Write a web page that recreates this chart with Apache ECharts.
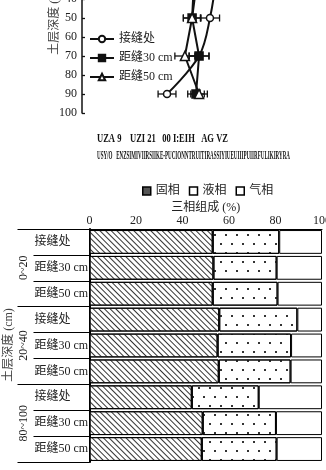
<!DOCTYPE html>
<html><head><meta charset="utf-8">
<script src="https://cdn.jsdelivr.net/npm/echarts@6/dist/echarts.min.js"></script>
<style>html,body{margin:0;padding:0;background:#fff}#c{width:326px;height:470px}</style>
</head><body><div id="c"></div><script>
// ---- top chart (depth profile) ----
const depths = [10, 30, 50, 70, 90];
const lineNames = ['接缝处', '距缝30 cm', '距缝50 cm'];
const seamVals = [60.0, 61.0, 58.7, 53.7, 39.0];
const seamErr  = [4.0, 4.0, 4.4, 4.5, 4.1];
const d30Vals  = [52.0, 51.4, 50.5, 53.7, 52.3];
const d30Err   = [3.5, 3.5, 4.0, 4.6, 3.8];
const d50Vals  = [53.0, 52.8, 50.5, 47.2, 53.7];
const d50Err   = [3.5, 3.5, 4.0, 4.6, 3.8];
// ---- bottom chart (three-phase composition) ----
const groups = ['0~20', '20~40', '80~100'];
const positions = ['接缝处', '距缝30 cm', '距缝50 cm'];
const phaseNames = ['固相', '液相', '气相'];
const solidVals  = [53.0, 53.3, 53.0, 55.8, 55.1, 55.6, 44.0, 48.7, 48.3];
const liquidVals = [28.6, 27.2, 27.9, 33.6, 31.6, 30.9, 28.8, 31.5, 32.2];
const gasVals    = [18.4, 19.5, 19.1, 10.6, 13.3, 13.5, 27.2, 19.8, 19.5];
const captionLines = ['UZA 9    UZI 21   00 I:EIH   AG VZ', 'USY/O   ENZSIMIVIIRSIIKE-PUCIONNTRUITIRASSIYIUEUIIIPUIIRFULIKIRYRA'];
const depthTitle = '土层深度 (cm)';

const FF = "'Liberation Serif', 'Noto Sans CJK SC', serif";
const TXT = '#222';
const rowCats = [];
groups.forEach(g => positions.forEach(p => rowCats.push(g + '|' + p)));

function errSeries(vals, errs) {
  return {
    type: 'custom', xAxisIndex: 0, yAxisIndex: 0, silent: true, z: 1,
    data: depths.map((d, i) => [vals[i] - errs[i], vals[i] + errs[i], d]),
    encode: { x: [0, 1], y: 2 },
    renderItem(params, api) {
      const y = api.value(2);
      const a = api.coord([api.value(0), y]);
      const b = api.coord([api.value(1), y]);
      const h = 3.5, st = { stroke: '#111', lineWidth: 1.3 };
      return { type: 'group', children: [
        { type: 'line', shape: { x1: a[0], y1: a[1], x2: b[0], y2: b[1] }, style: st },
        { type: 'line', shape: { x1: a[0], y1: a[1] - h, x2: a[0], y2: a[1] + h }, style: st },
        { type: 'line', shape: { x1: b[0], y1: b[1] - h, x2: b[0], y2: b[1] + h }, style: st }
      ]};
    }
  };
}
function lineSeries(name, vals, symbol, fill, size, smooth) {
  return {
    type: 'line', name, xAxisIndex: 0, yAxisIndex: 0, z: 3, smooth,
    data: depths.map((d, i) => [vals[i], d]),
    symbol, symbolSize: size, showSymbol: true,
    lineStyle: { color: '#111', width: 2 },
    itemStyle: { color: fill, borderColor: '#111', borderWidth: 1.5 }
  };
}

// caption texts, condensed to fit
const ctx = document.createElement('canvas').getContext('2d');
const capFont = "bold 12px 'Liberation Serif', serif";
ctx.font = capFont;
const capTargets = [[97, 133, 131], [97, 150, 193]];
const graphics = captionLines.map((t, i) => {
  const w = ctx.measureText(t).width;
  return { type: 'text', x: capTargets[i][0], y: capTargets[i][1], scaleX: capTargets[i][2] / w,
    style: { text: t, font: capFont, fill: '#111' } };
});
// rotated depth titles for both panels
[[55, 18], [9, 345]].forEach(p => graphics.push({
  type: 'text', x: p[0], y: p[1], rotation: Math.PI / 2,
  style: { text: depthTitle, fontSize: 12, fontFamily: FF, fill: '#444', align: 'center', verticalAlign: 'middle' }
}));

const chart = echarts.init(document.getElementById('c'), null, { renderer: 'canvas' });
chart.setOption({
  animation: false,
  backgroundColor: '#fff',
  graphic: graphics,
  grid: [
    { left: 82, top: -77, width: 218, height: 190, outerBoundsMode: 'none', containLabel: false },
    { left: 89.5, top: 229, width: 232.5, height: 233, outerBoundsMode: 'none', containLabel: false },
    { left: 89.5, top: 229, width: 232.5, height: 233, outerBoundsMode: 'none', containLabel: false }
  ],
  legend: [
    { data: lineNames, orient: 'vertical', left: 84, top: 28, itemGap: 7, itemWidth: 24, itemHeight: 8,
      textStyle: { fontSize: 12, fontFamily: FF, color: TXT }, selectedMode: false },
    { data: [
        { name: '固相', icon: 'rect', itemStyle: { color: '#555', borderColor: '#000', borderWidth: 1.5, decal: 'none' } },
        { name: '液相', icon: 'rect', itemStyle: { color: '#fff', borderColor: '#000', borderWidth: 1.5, decal: 'none' } },
        { name: '气相', icon: 'rect', itemStyle: { color: '#fff', borderColor: '#000', borderWidth: 1.5 } }
      ], left: 137, top: 180, itemGap: 9, itemWidth: 8, itemHeight: 8,
      textStyle: { fontSize: 12, fontFamily: FF, color: TXT }, selectedMode: false }
  ],
  xAxis: [
    { gridIndex: 0, type: 'value', min: 0, max: 100, show: false },
    { gridIndex: 1, type: 'value', position: 'top', min: 0, max: 100, interval: 20,
      axisLine: { show: true, lineStyle: { color: '#000', width: 1.2 } },
      axisTick: { show: false }, splitLine: { show: false },
      axisLabel: { margin: 2, fontSize: 12, fontFamily: FF, color: TXT },
      name: '三相组成 (%)', nameLocation: 'middle', nameGap: 15,
      nameTextStyle: { fontSize: 12, fontFamily: FF, color: TXT } },
    { gridIndex: 2, type: 'value', min: 0, max: 100, show: false }
  ],
  yAxis: [
    { gridIndex: 0, type: 'value', inverse: true, min: 0, max: 100, interval: 10,
      axisLine: { show: true, lineStyle: { color: '#111', width: 1.5 } },
      axisTick: { show: true, inside: true, length: 3, lineStyle: { color: '#111', width: 1.3 } },
      splitLine: { show: false },
      axisLabel: { margin: 5, fontSize: 12, fontFamily: FF, color: TXT } },
    { gridIndex: 1, type: 'category', inverse: true, data: rowCats,
      axisLine: { show: true, lineStyle: { color: '#000', width: 2 } },
      axisTick: { show: true, length: 56, interval: 0, lineStyle: { color: '#000', width: 1.2 } },
      axisLabel: { align: 'left', margin: 55, fontSize: 12, fontFamily: FF, color: TXT, interval: 0,
        formatter: v => v.split('|')[1] } },
    { gridIndex: 2, type: 'category', inverse: true, data: groups,
      axisLine: { show: false },
      axisTick: { show: true, length: 72, interval: 0, lineStyle: { color: '#000', width: 1.2 } },
      axisLabel: { rotate: 90, margin: 60, fontSize: 12, fontFamily: FF, color: TXT, interval: 0 } }
  ],
  series: [
    errSeries(seamVals, seamErr), errSeries(d30Vals, d30Err), errSeries(d50Vals, d50Err),
    lineSeries(lineNames[0], seamVals, 'circle', '#fff', 7, 0.35),
    lineSeries(lineNames[1], d30Vals, 'rect', '#111', 8, false),
    lineSeries(lineNames[2], d50Vals, 'triangle', '#fff', 9, false),
    { type: 'bar', name: phaseNames[0], stack: 'p', xAxisIndex: 1, yAxisIndex: 1, data: solidVals,
      barCategoryGap: '8%',
      itemStyle: { color: '#fff', borderColor: '#000', borderWidth: 1,
        decal: { symbol: 'rect', symbolSize: 1, dashArrayX: [1, 0], dashArrayY: [1, 2.5], rotation: Math.PI / 4, color: '#333' } } },
    { type: 'bar', name: phaseNames[1], stack: 'p', xAxisIndex: 1, yAxisIndex: 1, data: liquidVals,
      barCategoryGap: '8%',
      itemStyle: { color: '#fff', borderColor: '#000', borderWidth: 1,
        decal: { symbol: 'rect', symbolSize: 1, dashArrayX: [[1.3, 8.5], [0, 4.3, 1.3, 3.6]], dashArrayY: [1.3, 6.5], color: '#333' } } },
    { type: 'bar', name: phaseNames[2], stack: 'p', xAxisIndex: 1, yAxisIndex: 1, data: gasVals,
      barCategoryGap: '8%',
      itemStyle: { color: '#fff', borderColor: '#000', borderWidth: 1 } }
  ]
});
</script></body></html>
